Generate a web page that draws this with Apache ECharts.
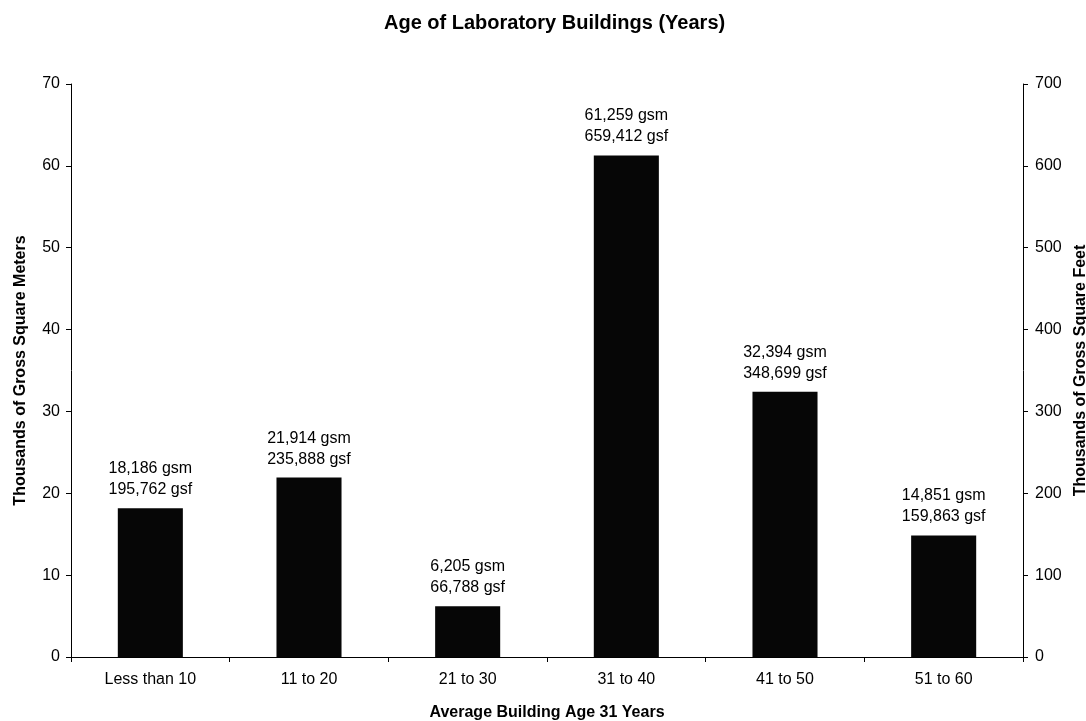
<!DOCTYPE html>
<html>
<head>
<meta charset="utf-8">
<title>Age of Laboratory Buildings</title>
<script src="https://cdn.jsdelivr.net/npm/echarts@6/dist/echarts.min.js"></script>
<style>
  html, body { margin: 0; padding: 0; background: #fff; }
  #main { width: 1086px; height: 721px; }
</style>
</head>
<body>
<div id="main"></div>
<script>
// categories and values
var categories = ['Less than 10', '11 to 20', '21 to 30', '31 to 40', '41 to 50', '51 to 60'];
var gsm = [18186, 21914, 6205, 61259, 32394, 14851];          // gross square meters
var gsf = [195762, 235888, 66788, 659412, 348699, 159863];    // gross square feet
var leftTicks = [0, 10, 20, 30, 40, 50, 60, 70];
var rightTicks = [0, 100, 200, 300, 400, 500, 600, 700];

function fmt(n) {
    return n.toString().replace(/\B(?=(\d{3})+(?!\d))/g, ',');
}

var barData = [];
for (var i = 0; i < gsm.length; i++) {
    barData.push(gsm[i] / 1000);
}

var myChart = echarts.init(document.getElementById('main'));
var font = 'Liberation Sans, Arial, sans-serif';

var option = {
    backgroundColor: '#ffffff',
    animation: false,
    textStyle: { fontFamily: font, color: '#000' },
    title: {
        text: 'Age of Laboratory Buildings (Years)',
        left: 379,
        top: 8,
        textStyle: { fontFamily: font, fontSize: 20, fontWeight: 'bold', color: '#000' }
    },
    grid: { left: 71, right: 63, top: 84, bottom: 64, outerBoundsMode: 'none' },
    xAxis: {
        type: 'category',
        data: categories,
        name: 'Average Building Age 31 Years',
        nameLocation: 'middle',
        nameGap: 48,
        nameTextStyle: { fontFamily: font, fontSize: 16, fontWeight: 'bold', color: '#000' },
        axisLine: { lineStyle: { color: '#000', width: 1 } },
        axisTick: { show: true, length: 5, lineStyle: { color: '#000' } },
        axisLabel: { fontFamily: font, fontSize: 16, color: '#000', margin: 15 }
    },
    yAxis: [
        {
            type: 'value',
            min: leftTicks[0],
            max: leftTicks[leftTicks.length - 1],
            interval: leftTicks[1] - leftTicks[0],
            name: 'Thousands of Gross Square Meters',
            nameLocation: 'middle',
            nameRotate: 90,
            nameGap: 42,
            nameTextStyle: { fontFamily: font, fontSize: 16, fontWeight: 'bold', color: '#000' },
            axisLine: { show: true, lineStyle: { color: '#000', width: 1 } },
            axisTick: { show: true, length: 5, lineStyle: { color: '#000' } },
            axisLabel: { fontFamily: font, fontSize: 16, color: '#000', margin: 11 },
            splitLine: { show: false }
        },
        {
            type: 'value',
            position: 'right',
            min: rightTicks[0],
            max: rightTicks[rightTicks.length - 1],
            interval: rightTicks[1] - rightTicks[0],
            name: 'Thousands of Gross Square Feet',
            nameLocation: 'middle',
            nameRotate: 90,
            nameGap: 47,
            nameTextStyle: { fontFamily: font, fontSize: 16, fontWeight: 'bold', color: '#000' },
            axisLine: { show: true, lineStyle: { color: '#000', width: 1 } },
            axisTick: { show: true, length: 5, lineStyle: { color: '#000' } },
            axisLabel: { fontFamily: font, fontSize: 16, color: '#000', margin: 12 },
            splitLine: { show: false }
        }
    ],
    series: [
        {
            name: 'gsm',
            type: 'bar',
            yAxisIndex: 0,
            data: barData,
            barWidth: '41%',
            itemStyle: { color: '#060606' },
            label: {
                show: true,
                position: 'top',
                distance: 8,
                fontFamily: font,
                fontSize: 16,
                lineHeight: 21,
                color: '#000',
                formatter: function (p) {
                    return fmt(gsm[p.dataIndex]) + ' gsm\n' + fmt(gsf[p.dataIndex]) + ' gsf';
                }
            }
        }
    ]
};

option && myChart.setOption(option);
</script>
</body>
</html>
